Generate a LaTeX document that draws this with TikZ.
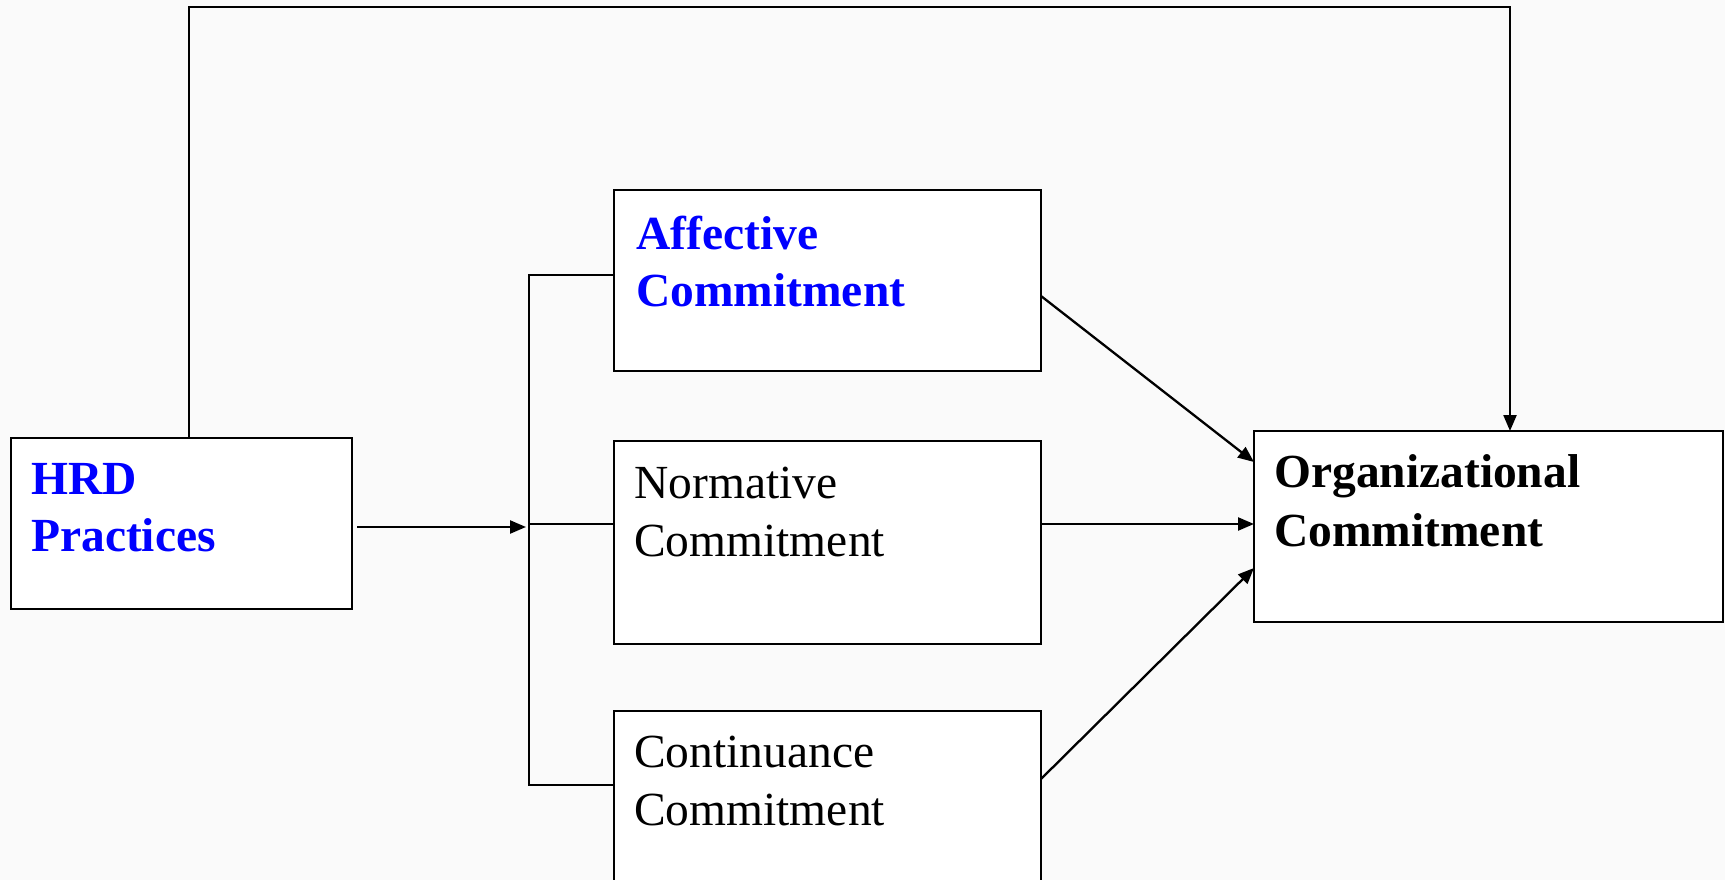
\documentclass[tikz,border=0pt]{standalone}
\usepackage{fontspec}
\setmainfont{Liberation Serif}
\usetikzlibrary{arrows.meta}
\definecolor{bgcol}{RGB}{250,250,250}
\definecolor{hblue}{RGB}{0,0,255}
\tikzset{
  box/.style={draw=black, fill=white, line width=2.3pt, rectangle, inner sep=0pt, outer sep=0pt, anchor=north west},
  lbl/.style={anchor=base west, inner sep=0pt, align=left, font=\fontsize{47.5}{58.5}\selectfont},
  blbl/.style={lbl, font=\fontsize{47.5}{58.5}\selectfont\bfseries},
  conn/.style={line width=2.3pt, draw=black},
  arr/.style={conn, -{Triangle[length=16pt,width=13pt]}}
}
\begin{document}
\begin{tikzpicture}[x=1pt,y=-1pt]
\useasboundingbox (0,0) rectangle (1725,880);
\fill[bgcol] (0,0) rectangle (1725,880);
\clip (0,0) rectangle (1725,880);
% boxes
\node[box, minimum width=341pt, minimum height=171pt] (hrd) at (11,438) {};
\node[box, minimum width=427pt, minimum height=181pt] (aff) at (614,190) {};
\node[box, minimum width=427pt, minimum height=203pt] (norm) at (614,441) {};
\node[box, minimum width=427pt, minimum height=200pt] (cont) at (614,711) {};
\node[box, minimum width=469pt, minimum height=191pt] (org) at (1254,431) {};
% labels
\node[blbl, text=hblue] (hrdt) at (31,494) {HRD};
\node[blbl, text=hblue] (hrdt2) at (31,551) {Practices};
\node[blbl, text=hblue] (afft) at (636,249) {Affective};
\node[blbl, text=hblue] (afft2) at (636,306) {Commitment};
\node[lbl] (normt) at (634,498) {Normative};
\node[lbl] (normt2) at (634,556) {Commitment};
\node[lbl] (contt) at (634,767) {Continuance};
\node[lbl] (contt2) at (634,825) {Commitment};
\node[blbl] (orgt) at (1274,487) {Organizational};
\node[blbl] (orgt2) at (1274,546) {Commitment};
% coordinates
\coordinate (tl) at (189,7);
\coordinate (tr) at (1510,7);
\coordinate (bt) at (529,275);
\coordinate (bm) at (529,524);
\coordinate (bb) at (529,785);
\coordinate (hin) at (526,527);
% top connector
\draw[arr] (hrd.north -| tl) -- (tl) -- (tr) -- (tr |- org.north);
% bracket
\draw[conn] (aff.west |- bt) -- (bt) -- (bb) -- (cont.west |- bb);
\draw[conn] (bm) -- (norm.west |- bm);
% HRD arrow
\draw[arr] (hrd.east |- hin) ++(5,0) -- (hin);
% arrows to org
\draw[arr] (aff.east |- 0,296) -- (org.west |- 0,462);
\draw[arr] (norm.east |- 0,524) -- (org.west |- 0,524);
\draw[arr] (cont.east |- 0,779) -- (org.west |- 0,568);
\end{tikzpicture}
\end{document}
